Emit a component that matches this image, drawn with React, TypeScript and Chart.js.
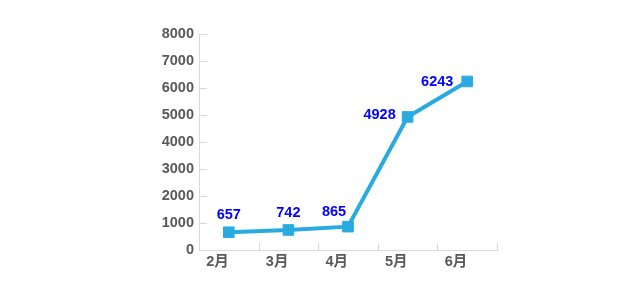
import React, { useEffect, useRef } from "react";
import { Chart, registerables } from "chart.js";

Chart.register(...registerables);

const categories = ["2月", "3月", "4月", "5月", "6月"];
const values = [657, 742, 865, 4928, 6243];
const yMin = 0;
const yMax = 8000;
const yStep = 1000;

const FONT = "'Liberation Sans', Arial, 'Noto Sans CJK JP', sans-serif";
const AXIS_COLOR = "#d9d9d9";
const LINE_COLOR = "#29abe2";
const LABEL_COLOR = "#0000ff";
const TICK_COLOR = "#595959";

// label offsets relative to point (style only)
const labelOffsets = [
  { dx: 0, dy: -17 },
  { dx: 0, dy: -17 },
  { dx: -14, dy: -15 },
  { dx: -28, dy: -2 },
  { dx: -30, dy: 1 },
];

const insideTicks = {
  id: "insideTicks",
  afterDatasetsDraw(chart: any) {
    const ctx = chart.ctx;
    const x = chart.scales.x;
    const y = chart.scales.y;
    ctx.save();
    ctx.strokeStyle = AXIS_COLOR;
    ctx.lineWidth = 1;
    ctx.beginPath();
    y.ticks.forEach((t: any) => {
      const py = Math.round(y.getPixelForValue(t.value)) + 0.5;
      ctx.moveTo(x.left, py);
      ctx.lineTo(x.left + 8, py);
    });
    const n = categories.length;
    for (let i = 0; i <= n; i++) {
      const px = Math.round(x.getPixelForValue(i - 0.5)) + 0.5;
      ctx.moveTo(px, y.bottom);
      ctx.lineTo(px, y.bottom - 7);
    }
    ctx.stroke();
    ctx.restore();
  },
  afterDraw(chart: any) {
    const ctx = chart.ctx;
    const meta = chart.getDatasetMeta(0);
    ctx.save();
    ctx.font = `bold 14.5px ${FONT}`;
    ctx.fillStyle = LABEL_COLOR;
    ctx.textAlign = "center";
    ctx.textBaseline = "middle";
    meta.data.forEach((pt: any, i: number) => {
      const o = labelOffsets[i];
      ctx.fillText(String(values[i]), pt.x + o.dx, pt.y + o.dy);
    });
    ctx.restore();
  },
};

export default function App() {
  const ref = useRef<HTMLCanvasElement>(null);
  useEffect(() => {
    const chart = new Chart(ref.current!, {
      type: "line",
      data: {
        labels: categories,
        datasets: [
          {
            data: values,
            borderColor: LINE_COLOR,
            backgroundColor: LINE_COLOR,
            borderWidth: 4,
            pointStyle: "rect",
            pointRadius: 7.5,
            pointBorderWidth: 1,
            pointBorderColor: LINE_COLOR,
            pointBackgroundColor: LINE_COLOR,
            tension: 0,
          },
        ],
      },
      options: {
        animation: false,
        responsive: false,
        maintainAspectRatio: false,
        layout: { padding: { left: 150, right: 142, top: 34, bottom: 11 } },
        plugins: { legend: { display: false }, tooltip: { enabled: false } },
        scales: {
          x: {
            offset: true,
            grid: { display: false, drawTicks: false },
            border: { display: true, color: AXIS_COLOR },
            ticks: {
              align: "end",
              padding: 3,
              color: TICK_COLOR,
              font: { family: FONT, size: 14.5, weight: "bold" },
            },
            afterFit(s: any) {
              s.height = 20;
            },
          },
          y: {
            min: yMin,
            max: yMax,
            grid: { display: false, drawTicks: false },
            border: { display: true, color: AXIS_COLOR },
            ticks: {
              stepSize: yStep,
              padding: 5,
              color: TICK_COLOR,
              font: { family: FONT, size: 14.5, weight: "bold" },
              callback: (v: any) => String(v),
            },
            afterFit(s: any) {
              s.width = 49;
            },
          },
        },
      },
      plugins: [insideTicks],
    });
    return () => chart.destroy();
  }, []);
  return (
    <div style={{ position: "fixed", left: 0, top: 0, width: 639, height: 281, background: "#fff" }}>
      <canvas ref={ref} width={639} height={281} />
    </div>
  );
}
